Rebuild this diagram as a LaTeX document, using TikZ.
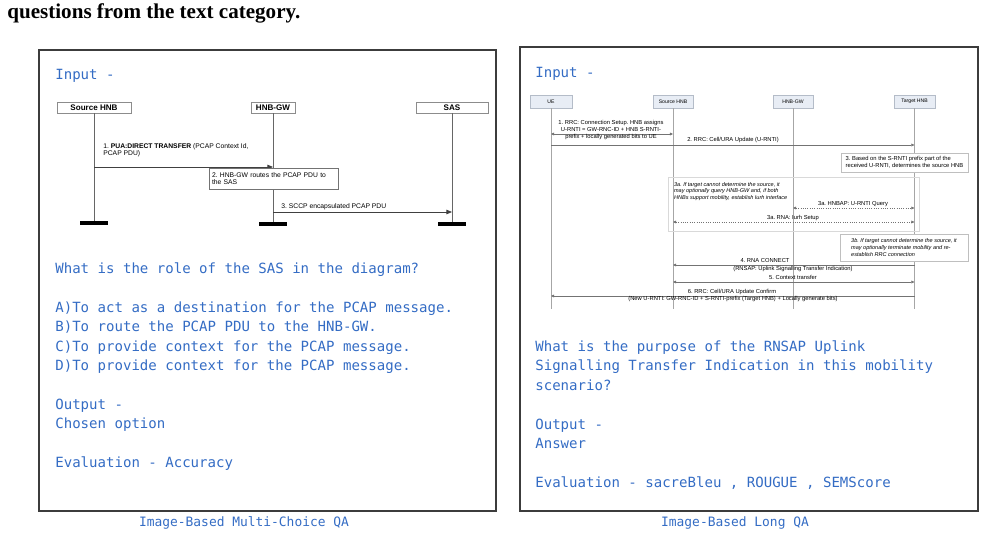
\documentclass[tikz,border=0pt]{standalone}
\usepackage{fontspec}
\usetikzlibrary{arrows.meta,positioning}
\newfontfamily\monofont{DejaVu Sans Mono}
\newfontfamily\labelfont{Liberation Sans}
\newfontfamily\headfont{Liberation Serif}
\definecolor{qablue}{RGB}{52,108,196}
\definecolor{framegray}{RGB}{60,60,60}
\definecolor{actorfill}{RGB}{232,237,245}
\definecolor{actorline}{RGB}{180,188,200}
\frenchspacing

\begin{document}
\begin{tikzpicture}[x=0.02cm, y=-0.02cm,
  qatext/.style={anchor=base west, inner sep=0pt, text=qablue, font=\monofont\fontsize{8}{11}\selectfont},
  qacaption/.style={qatext, anchor=base, font=\monofont\fontsize{7.35}{9}\selectfont},
  panel/.style={draw=framegray, line width=0.75pt, inner sep=0pt},
  lactor/.style={draw=black!45, fill=white, line width=0.35pt, minimum height=0.22cm, inner sep=0pt, font=\labelfont\bfseries\fontsize{4.6}{5}\selectfont},
  lbar/.style={fill=black, minimum width=0.58cm, minimum height=0.08cm, inner sep=0pt},
  llife/.style={draw=black!60, line width=0.35pt},
  lmsg/.style={draw=black!75, line width=0.45pt, -{Triangle[length=3.2pt,width=2.6pt]}},
  lnote/.style={inner sep=0pt, align=left, font=\labelfont\fontsize{3.85}{4.1}\selectfont},
  lstep/.style={lnote, draw=black!55, fill=white, line width=0.35pt, minimum width=2.58cm, minimum height=0.42cm, text width=2.46cm, inner xsep=0.06cm},
  ractor/.style={draw=actorline, fill=actorfill, line width=0.35pt, minimum height=0.26cm, inner sep=0pt, font=\labelfont\fontsize{2.9}{3.2}\selectfont},
  rlife/.style={draw=black!35, line width=0.3pt},
  rmsg/.style={draw=black!55, line width=0.3pt, -{Triangle[length=1.8pt,width=1.6pt]}},
  rboth/.style={rmsg, {Triangle[length=1.8pt,width=1.6pt]}-{Triangle[length=1.8pt,width=1.6pt]}},
  rquery/.style={rboth, densely dotted},
  rnote/.style={inner sep=0pt, align=center, font=\labelfont\fontsize{3.3}{4}\selectfont},
  rstep/.style={draw=black!25, fill=white, line width=0.3pt, inner xsep=0.06cm, inner ysep=0pt, align=left, font=\labelfont\fontsize{3.3}{4}\selectfont}]
\useasboundingbox (0,0) rectangle (985,538);

\node[anchor=base west, inner sep=0pt, font=\headfont\bfseries\fontsize{12}{14}\selectfont] (head) at (7,18) {questions from the text category.};

\node[panel, minimum width=9.14cm, minimum height=9.22cm] (mcq) at (267.5,280.5) {};
\node[panel, minimum width=9.16cm, minimum height=9.28cm] (lqa) at (749,279) {};
\node[qacaption] (mcqcap) at (244,526) {Image-Based Multi-Choice QA};
\node[qacaption] (lqacap) at (735,526) {Image-Based Long QA};

\node[qatext] (mcqin) at (55,79) {Input -};
\node[qatext] (lqain) at (535,77) {Input -};

\foreach \y/\t [count=\i] in {269/{What is the role of the SAS in the diagram?},
    308/{A)To act as a destination for the PCAP message.},
    327/{B)To route the PCAP PDU to the HNB-GW.},
    347/{C)To provide context for the PCAP message.},
    366/{D)To provide context for the PCAP message.},
    405/{Output -}, 424/{Chosen option}, 463/{Evaluation - Accuracy}}
  \node[qatext] (mcq\i) at (55,\y+4) {\t};

\foreach \y/\t [count=\i] in {347/{What is the purpose of the RNSAP Uplink},
    366/{Signalling Transfer Indication in this mobility},
    386/{scenario?}, 425/{Output -}, 444/{Answer},
    483/{Evaluation - sacreBleu , ROUGUE , SEMScore}}
  \node[qatext] (lqa\i) at (535,\y+4) {\t};

% left sequence
\node[lactor, minimum width=1.48cm] (lsrc) at (94,107.5) {Source HNB};
\node[lactor, minimum width=0.88cm] (lgw) at (273,107.5) {HNB-GW};
\node[lactor, minimum width=1.44cm] (lsas) at (452,107.5) {SAS};
\node[lbar] (lsrcend) at (lsrc |- 0,223) {};
\node[lbar] (lgwend) at (lgw |- 0,224) {};
\node[lbar] (lsasend) at (lsas |- 0,224) {};
\draw[llife] (lsrc) -- (lsrcend);
\draw[llife] (lgw) -- (lgwend);
\draw[llife] (lsas) -- (lsasend);

\draw[lmsg] (lsrc |- 0,167) -- (lgw |- 0,167);
\node[lnote, anchor=north west] (ltransfer) at (103,143) {1. \textbf{PUA:DIRECT TRANSFER} (PCAP Context Id,\\PCAP PDU)};
\node[lstep] (lroute) at (273.5,178.5) {2. HNB-GW routes the PCAP PDU to\\the SAS};
\draw[lmsg] (lgw |- 0,212) -- (lsas |- 0,212);
\node[lnote, anchor=base west] (lsccp) at (281,208) {3. SCCP encapsulated PCAP PDU};

% right sequence
\node[ractor, minimum width=0.84cm] (ue) at (551,101.5) {UE};
\node[ractor, minimum width=0.80cm] (shnb) at (673,101.5) {Source HNB};
\node[ractor, minimum width=0.80cm] (gw) at (793,101.5) {HNB-GW};
\node[ractor, minimum width=0.82cm] (thnb) at (914.5,101.5) {Target HNB};
\foreach \n in {ue,shnb,gw,thnb} {
  \coordinate (\n end) at (\n |- 0,309);
  \draw[rlife] (\n) -- (\n end);
}

\draw[rboth] (ue |- 0,134) -- (shnb |- 0,134);
\node[rnote] (rrcsetup) at (611,130) {1. RRC: Connection Setup. HNB assigns\\U-RNTI = GW-RNC-ID + HNB S-RNTI-\\prefix + locally generated bits to UE};
\draw[rmsg] (ue |- 0,145) -- (thnb |- 0,145);
\node[rnote] (rrcupdate) at (733,140) {2. RRC: Cell/URA Update (U-RNTI)};
\node[rstep, minimum width=2.54cm, minimum height=0.38cm] (resolve) at (904.5,162.5) {3. Based on the S-RNTI prefix part of the\\received U-RNTI, determines the source HNB};

\node[draw=black!15, line width=0.3pt, minimum width=5.02cm, minimum height=1.08cm, inner sep=0pt] (alt3a) at (793.5,204) {};
\node[rnote, align=left, anchor=north west, font=\labelfont\itshape\fontsize{3.15}{3.9}\selectfont] (alt3atext) at ([shift={(6,5)}]alt3a.north west) {3a. If target cannot determine the source, it\\may optionally query HNB-GW and, if both\\HNBs support mobility, establish Iurh interface};
\draw[rquery] (gw |- 0,208) -- (thnb |- 0,208);
\node[rnote] (hnbap) at (853,204) {3a. HNBAP: U-RNTI Query};
\draw[rquery] (shnb |- 0,222) -- (thnb |- 0,222);
\node[rnote] (iurh) at (793,218) {3a. RNA: Iurh Setup};

\node[rstep, minimum width=2.56cm, minimum height=0.54cm, font=\labelfont\itshape\fontsize{3.15}{3.9}\selectfont] (alt3b) at (904,247.5) {3b. If target cannot determine the source, it\\may optionally terminate mobility and re-\\establish RRC connection};

\draw[rmsg] (thnb |- 0,265) -- (shnb |- 0,265);
\node[rnote] (rnaconn) at (765,260.5) {4. RNA CONNECT};
\node[rnote] (rnaind) at (793,268.5) {(RNSAP: Uplink Signalling Transfer Indication)};
\draw[rboth] (shnb |- 0,282) -- (thnb |- 0,282);
\node[rnote] (ctx) at (793,277.5) {5. Context transfer};
\draw[rmsg] (thnb |- 0,296) -- (ue |- 0,296);
\node[rnote] (confirm) at (732,292) {6. RRC: Cell/URA Update Confirm};
\node[rnote] (confirmid) at (733,299) {(New U-RNTI: GW-RNC-ID + S-RNTI-prefix (Target HNB) + Locally generate bits)};
\end{tikzpicture}
\end{document}
